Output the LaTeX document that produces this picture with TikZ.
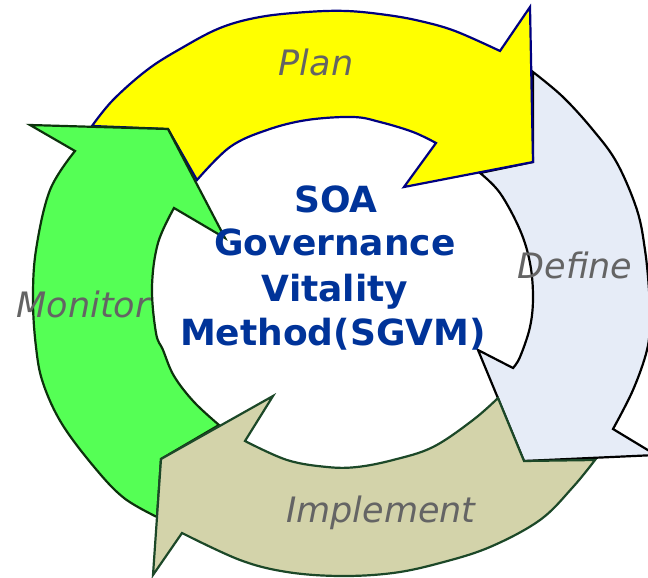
\documentclass[tikz,border=0pt]{standalone}
\usepackage{fontspec}
\newfontfamily\dvsans{DejaVu Sans}
\definecolor{plfill}{RGB}{255,255,0}
\definecolor{pldraw}{RGB}{0,0,128}
\definecolor{dffill}{RGB}{230,236,247}
\definecolor{dfdraw}{RGB}{0,0,0}
\definecolor{imfill}{RGB}{211,211,170}
\definecolor{imdraw}{RGB}{28,72,40}
\definecolor{mofill}{RGB}{85,255,85}
\definecolor{modraw}{RGB}{12,50,12}
\definecolor{titleblue}{RGB}{0,51,153}
\definecolor{labelgray}{RGB}{100,100,100}
\tikzset{
  arrowshape/.style={line width=2.2pt, line join=miter},
  titletext/.style={anchor=base, inner sep=0pt, text=titleblue, font=\dvsans\bfseries\fontsize{36}{36}\selectfont},
  phaselabel/.style={anchor=base, inner sep=0pt, text=labelgray, font=\dvsans\itshape\fontsize{35}{35}\selectfont},
}
\begin{document}
\begin{tikzpicture}[x=1pt, y=-1pt]
\useasboundingbox (0,0) rectangle (648,578);
% Define (light blue)
\filldraw[arrowshape, fill=dffill, draw=dfdraw]
  plot[smooth, tension=0.6] coordinates {(533,72) (563,97) (593,130) (617,163) (637,210) (645,250) (649,290) (650,320) (647,350) (633,390) (613,429)}
  -- (656,455) -- (524,461) -- (478,350)
  -- plot[smooth, tension=0.6] coordinates {(513,368) (520,357) (530,327) (533,297) (530,263) (520,230) (500,193) (480,173)}
  -- (533,162) -- cycle;
% Plan (yellow)
\filldraw[arrowshape, fill=plfill, draw=pldraw]
  plot[smooth, tension=0.6] coordinates {(92,126) (113,100) (147,70) (180,49) (220,28) (260,17) (307,12) (347,11) (387,15) (420,21) (455,31) (500,51)}
  -- (530,7) -- (533,162) -- (404,187)
  -- plot[smooth, tension=0.6] coordinates {(436,143) (413,132) (380,122) (353,117) (307,120) (267,130) (230,147) (197,180)}
  -- (168,129) -- cycle;
% Monitor (green)
\filldraw[arrowshape, fill=mofill, draw=modraw]
  plot[smooth, tension=0.6] coordinates {(157,517) (124,498) (95,468) (62,424) (43,383) (36,347) (33,300) (36,250) (50,190) (75,151)}
  -- (30,125) -- (168,129) -- (225,238)
  -- plot[smooth, tension=0.6] coordinates {(174,208) (158,243) (152,287) (156,333) (163,350) (174,376) (194,402) (219,425)}
  -- (161,459) -- cycle;
% Implement (khaki)
\filldraw[arrowshape, fill=imfill, draw=imdraw]
  plot[smooth, tension=0.6] coordinates {(498,398) (473,420) (433,447) (393,460) (357,467) (327,467) (287,460) (245,441)}
  -- (273,396) -- (161,459) -- (153,575)
  -- plot[smooth, tension=0.6] coordinates {(182,533) (240,560) (287,572) (340,576) (393,573) (440,563) (490,547) (540,520) (573,487) (595,460)}
  -- (524,461) -- cycle;
% Title
\node[titletext] (t1) at (336,212) {SOA};
\node[titletext] (t2) at (335,255) {Governance};
\node[titletext] (t3) at (335,301) {Vitality};
\node[titletext] (t4) at (333,345) {Method(SGVM)};
% Phase labels
\node[phaselabel] (plan) at (316,76) {Plan};
\node[phaselabel] (define) at (575,278) {Define};
\node[phaselabel] (implement) at (381,522) {Implement};
\node[phaselabel] (monitor) at (83,317) {Monitor};
\end{tikzpicture}
\end{document}
